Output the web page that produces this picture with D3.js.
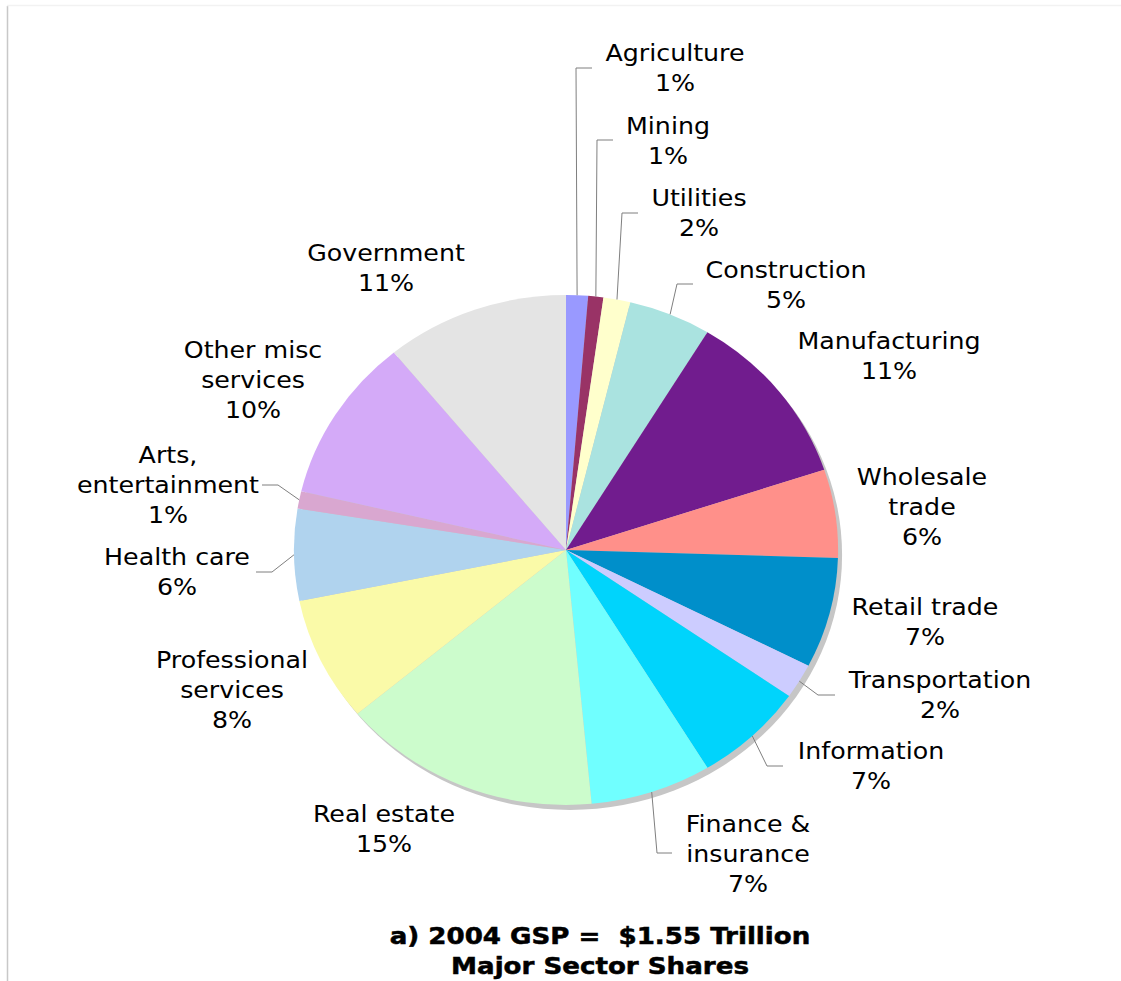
<!DOCTYPE html>
<html>
<head>
<meta charset="utf-8">
<script src="https://cdn.jsdelivr.net/npm/d3@7/dist/d3.min.js"></script>
<style>
  html, body { margin: 0; padding: 0; background: #fff; }
  svg { display: block; }
  text { font-family: "DejaVu Sans", Verdana, sans-serif; fill: #000; }
</style>
</head>
<body>
<svg id="chart" width="1121" height="981"></svg>
<script>
// Sector names (clockwise from 12 o'clock) and their share of GSP, in percent
const sectors = [
  "Agriculture", "Mining", "Utilities", "Construction", "Manufacturing",
  "Wholesale\ntrade", "Retail trade", "Transportation", "Information",
  "Finance &\ninsurance", "Real estate", "Professional\nservices",
  "Health care", "Arts,\nentertainment", "Other misc\nservices", "Government"
];
const shares = [1.3, 0.9, 1.6, 4.9, 11.2, 5.6, 7.0, 2.2, 6.6, 7.2, 15.4, 7.9, 5.8, 1.1, 10.4, 10.9];
const colors = [
  "#9999ff", "#993366", "#ffffcc", "#aae3e0", "#711c8e",
  "#ff908a", "#008fca", "#ccccff", "#00d4fc",
  "#70ffff", "#ccfccc", "#fafaa8",
  "#b0d3ee", "#d9a7d0", "#d4aaf8", "#e4e4e4"
];
const titleLines = ["a) 2004 GSP =  $1.55 Trillion", "Major Sector Shares"];

// ---- layout ----
const cx = 566, cy = 550, R = 255, sx = 1.067;
const lineStep = 30, fontSize = 23, textStretch = 1.1;
// first-line centre of each label
const labelPos = [
  [675, 53], [668, 126], [699, 198], [786, 270], [889, 341],
  [922, 477], [925, 607], [940, 680], [871, 751],
  [748, 824], [384, 814], [232, 660],
  [177, 557], [168, 455], [253, 350], [386, 253]
];
// leader lines: slice index -> [elbow x, elbow y, end x]
const leaders = {
  0: [576, 68, 592], 1: [597, 140, 613], 2: [622, 213, 638], 3: [677, 284, 693],
  7: [818, 695, 835], 8: [767, 766, 783], 9: [657, 853, 672],
  12: [272, 572, 256], 13: [278, 485, 262]
};

const svg = d3.select("#chart");

// frame edges
svg.append("line").attr("x1", 7.5).attr("x2", 7.5).attr("y1", 6).attr("y2", 981)
  .attr("stroke", "#c8c8c8").attr("stroke-width", 1.5);
svg.append("line").attr("x1", 7).attr("x2", 1121).attr("y1", 5.5).attr("y2", 5.5)
  .attr("stroke", "#f2f2f2").attr("stroke-width", 1.5);

const pie = d3.pie().sort(null).value(d => d)(shares);
const arc = d3.arc().innerRadius(0).outerRadius(R);

// drop shadow under the pie
svg.append("ellipse")
  .attr("cx", cx + 4).attr("cy", cy + 5)
  .attr("rx", R * sx).attr("ry", R)
  .attr("fill", "#c6c6c6");

const g = svg.append("g").attr("transform", `translate(${cx},${cy}) scale(${sx},1)`);
g.selectAll("path").data(pie).join("path")
  .attr("d", arc)
  .attr("fill", (d, i) => colors[i]);

// leader lines from the slice's outer edge to its label
Object.entries(leaders).forEach(([k, L]) => {
  const d = pie[+k];
  const a = (d.startAngle + d.endAngle) / 2;
  const x0 = cx + sx * R * Math.sin(a), y0 = cy - R * Math.cos(a);
  svg.append("polyline")
    .attr("points", `${x0},${y0} ${L[0]},${L[1]} ${L[2]},${L[1]}`)
    .attr("fill", "none").attr("stroke", "#7f7f7f").attr("stroke-width", 1);
});

// labels: name lines followed by the rounded percentage
sectors.forEach((name, i) => {
  const lines = name.split("\n").concat([Math.round(shares[i]) + "%"]);
  const [lx, ly] = labelPos[i];
  const t = svg.append("g")
    .attr("transform", `translate(${lx},0) scale(${textStretch},1)`)
    .append("text")
    .attr("text-anchor", "middle")
    .attr("font-size", fontSize);
  lines.forEach((s, j) => {
    t.append("tspan").attr("x", 0).attr("y", ly + 8 + j * lineStep).text(s);
  });
});

// title
const tt = svg.append("g")
  .attr("transform", "translate(600,0) scale(1.135,1)")
  .append("text").attr("text-anchor", "middle")
  .attr("font-size", 23).attr("font-weight", "bold")
  .attr("stroke", "#000").attr("stroke-width", 0.5)
  .style("white-space", "pre");
titleLines.forEach((s, j) => {
  tt.append("tspan").attr("x", 0).attr("y", 944 + j * 30).text(s);
});
</script>
</body>
</html>
